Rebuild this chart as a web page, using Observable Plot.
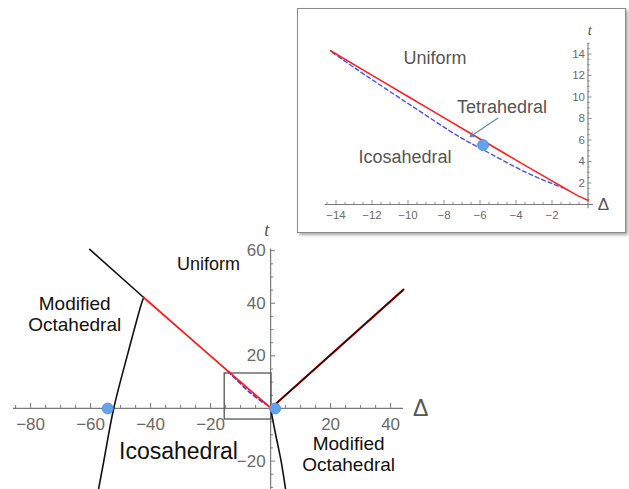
<!DOCTYPE html>
<html><head><meta charset="utf-8">
<script src="https://cdn.jsdelivr.net/npm/d3@7"></script>
<script src="https://cdn.jsdelivr.net/npm/@observablehq/plot@0.6"></script>
<style>
html,body{margin:0;padding:0;background:#fff;}
#wrap{position:relative;width:629px;height:489px;overflow:hidden;font-family:"Liberation Sans",Arial,sans-serif;}
#main{position:absolute;left:0;top:0;}
#inset{position:absolute;left:297px;top:8px;width:329px;height:225px;border:1.5px solid #8a8a8a;background:#fff;box-shadow:2px 2px 3px rgba(0,0,0,0.35);box-sizing:border-box;overflow:hidden;}
#inset svg,#main svg{display:block;}
</style></head><body>
<div id="wrap"><div id="main"></div><div id="inset"></div></div>
<script>
// ---- data (Δ, t) ----
const upperLeftBoundary = [[-60.3, 60.5], [-42.3, 42.2]];
const leftBoundary = [[-42.3, 42.2], [-43, 40], [-47.8, 20], [-52.3, 0], [-55.6, -20], [-57.4, -31]];
const redBoundary = [[-42.3, 42.2], [-14.3, 14.3], [-10, 10.05], [-6, 6.1], [-3.4, 3.55], [-2, 2.2], [-1.2, 1.42], [-0.6, 0.85], [0, 0.4]];
const blueDashed = [[-14.2, 14.15], [-13, 12.75], [-10, 9.4], [-7.1, 6.25], [-6, 5.25], [-3.4, 2.95], [-2, 1.95], [-1.4, 1.55]];
const rightBoundary = [[0, 0], [44.3, 45.2]];
const lowerRightBoundary = [[0, 0], [1.7, -10], [3.5, -20], [5, -30.8]];
const mainPoints = [[-54.3, 0], [1.5, 0]];
const insetPoints = [[-5.83, 5.53]];
const zoomBox = [{x1: -15.3, x2: 0.3, y1: -4.2, y2: 13.3}];
const tetraArrow = [{x1: -5, y1: 8.05, x2: -6.55, y2: 6.3}];

const mainXTickLabels = [-80, -60, -40, -20, 20, 40];
const mainYTickLabels = [60, 40, 20, -20];
const insetXTickLabels = [-14, -12, -10, -8, -6, -4, -2];
const insetYTickLabels = [2, 4, 6, 8, 10, 12, 14];

const mainLabels = [
  {text: "Uniform", x: -20.7, y: 55.1, size: 18},
  {text: "Modified\nOctahedral", x: -65.3, y: 35.9, size: 19},
  {text: "Icosahedral", x: -30.7, y: -16, size: 23},
  {text: "Modified\nOctahedral", x: 26, y: -17.3, size: 19}
];
const insetLabels = [
  {text: "Uniform", x: -8.5, y: 13.6},
  {text: "Tetrahedral", x: -4.78, y: 9.07},
  {text: "Icosahedral", x: -10.17, y: 4.4}
];

// ---- helpers ----
const fmt = v => v < 0 ? "\u2212" + Math.abs(v) : String(v);
const P = d => d[0], Q = d => d[1];
function range(a, b, s) { const r = []; for (let v = a; v <= b + 1e-9; v += s) r.push(+v.toFixed(3)); return r; }
const font = "Liberation Sans, Arial, Helvetica, sans-serif";
const axisColor = "#7a7a7a";

// ---- main chart ----
const mx = {domain: [-85.7, 44.3], range: [13, 403]};
const my = {domain: [-31, 60.6], range: [489.5, 248.6]};
const mpxX = (mx.range[1] - mx.range[0]) / (mx.domain[1] - mx.domain[0]);
const mpxY = (my.range[0] - my.range[1]) / (my.domain[1] - my.domain[0]);
const mxTicks = range(-85, 40, 5).filter(v => v !== 0);
const myTicks = range(-30, 60, 5).filter(v => v !== 0);

const main = Plot.plot({
  width: 629, height: 489,
  marginLeft: 0, marginRight: 0, marginTop: 0, marginBottom: 0,
  x: {...mx, axis: null},
  y: {...my, axis: null},
  style: {background: "transparent", fontFamily: font},
  marks: [
    Plot.ruleY([0], {x1: mx.domain[0], x2: mx.domain[1], stroke: axisColor, strokeWidth: 1.2}),
    Plot.ruleX([0], {y1: my.domain[0], y2: my.domain[1], stroke: axisColor, strokeWidth: 1.2}),
    Plot.ruleX(mxTicks, {x: d => d, y1: 0, y2: d => (d % 20 === 0 ? 5 : 3) / mpxY, stroke: axisColor}),
    Plot.ruleY(myTicks, {y: d => d, x1: 0, x2: d => (d % 20 === 0 ? 5 : 3) / mpxX, stroke: axisColor}),
    Plot.text(mainXTickLabels, {x: d => d, y: 0, text: fmt, dy: 16, fontSize: 17, fill: "#6a6a6a"}),
    Plot.text(mainYTickLabels, {x: 0, y: d => d, text: fmt, dx: -5, textAnchor: "end", fontSize: 17, fill: "#6a6a6a"}),
    Plot.text(["\u0394"], {x: 50, y: 0, text: d => d, fontSize: 23, fill: "#555"}),
    Plot.text(["t"], {x: -1.3, y: 67.7, text: d => d, fontSize: 18, fontStyle: "italic", fontFamily: "Liberation Serif, serif", fill: "#555"}),
    Plot.rect(zoomBox, {x1: "x1", x2: "x2", y1: "y1", y2: "y2", fill: "none", stroke: "#555", strokeWidth: 1.3}),
    Plot.line(upperLeftBoundary, {x: P, y: Q, stroke: "#111", strokeWidth: 1.6}),
    Plot.line(leftBoundary, {x: P, y: Q, stroke: "#111", strokeWidth: 1.6, curve: "catmull-rom"}),
    Plot.line(lowerRightBoundary, {x: P, y: Q, stroke: "#111", strokeWidth: 1.6, curve: "catmull-rom"}),
    Plot.line(rightBoundary, {x: P, y: Q, stroke: "#e00", strokeWidth: 2.2}),
    Plot.line(rightBoundary, {x: P, y: Q, stroke: "#111", strokeWidth: 1.4}),
    Plot.line(blueDashed, {x: P, y: Q, stroke: "#3030ff", strokeWidth: 1.6, strokeDasharray: "4,3", curve: "catmull-rom"}),
    Plot.line(redBoundary, {x: P, y: Q, stroke: "#ff1a1a", strokeWidth: 1.8, curve: "catmull-rom"}),
    Plot.dot(mainPoints, {x: P, y: Q, r: 5.5, fill: "#64a2ea", stroke: "#4f8fdc", strokeWidth: 0.8}),
    Plot.text(mainLabels, {x: "x", y: "y", text: "text", fontSize: d => d.size, lineHeight: 1.12, fill: "#111"})
  ]
});
document.getElementById("main").appendChild(main);

// ---- inset ----
const ix = {domain: [-14.6, 0.3], range: [26.7, 294.9]};
const iy = {domain: [-2.6, 15.1], range: [222.95, 32.7]};
const ipxX = (ix.range[1] - ix.range[0]) / (ix.domain[1] - ix.domain[0]);
const ipxY = (iy.range[0] - iy.range[1]) / (iy.domain[1] - iy.domain[0]);
const ixTicks = range(-14.5, -0.5, 0.5);
const iyTicks = range(0.5, 15, 0.5);
const isMajor = d => Math.abs(d % 2) < 1e-6;

const inset = Plot.plot({
  width: 326, height: 222,
  marginLeft: 0, marginRight: 0, marginTop: 0, marginBottom: 0,
  x: {...ix, axis: null},
  y: {...iy, axis: null},
  style: {background: "#fff", fontFamily: font},
  marks: [
    Plot.ruleY([0], {x1: ix.domain[0], x2: ix.domain[1], stroke: axisColor, strokeWidth: 1.1}),
    Plot.ruleX([0], {y1: -0.4, y2: 15, stroke: axisColor, strokeWidth: 1.1}),
    Plot.ruleX(ixTicks, {x: d => d, y1: 0, y2: d => (isMajor(d) ? 4 : 2.2) / ipxY, stroke: axisColor, strokeWidth: 0.8}),
    Plot.ruleY(iyTicks, {y: d => d, x1: 0, x2: d => (isMajor(d) ? 4 : 2.2) / ipxX, stroke: axisColor, strokeWidth: 0.8}),
    Plot.text(insetXTickLabels, {x: d => d, y: 0, text: fmt, dy: 11, fontSize: 11.5, fill: "#6a6a6a"}),
    Plot.text(insetYTickLabels, {x: 0, y: d => d, text: fmt, dx: -3, textAnchor: "end", fontSize: 11.5, fill: "#6a6a6a"}),
    Plot.text(["\u0394"], {x: 0.85, y: 0, text: d => d, fontSize: 17, fill: "#555"}),
    Plot.text(["t"], {x: 0.1, y: 16.2, text: d => d, fontSize: 15, fontStyle: "italic", fontFamily: "Liberation Serif, serif", fill: "#555"}),
    Plot.line(blueDashed, {x: P, y: Q, stroke: "#4a4aff", strokeWidth: 1.4, strokeDasharray: "4,3", curve: "catmull-rom"}),
    Plot.line(redBoundary.filter(d => d[0] >= -14.4), {x: P, y: Q, stroke: "#ff2020", strokeWidth: 1.6, curve: "catmull-rom"}),
    Plot.arrow(tetraArrow, {x1: "x1", y1: "y1", x2: "x2", y2: "y2", stroke: "#5b82b5", strokeWidth: 1.1, headLength: 7}),
    Plot.dot(insetPoints, {x: P, y: Q, r: 5.5, fill: "#64a2ea", stroke: "#4f8fdc", strokeWidth: 0.8}),
    Plot.text(insetLabels, {x: "x", y: "y", text: "text", fontSize: 18, fill: "#555"})
  ]
});
document.getElementById("inset").appendChild(inset);
</script>
</body></html>
